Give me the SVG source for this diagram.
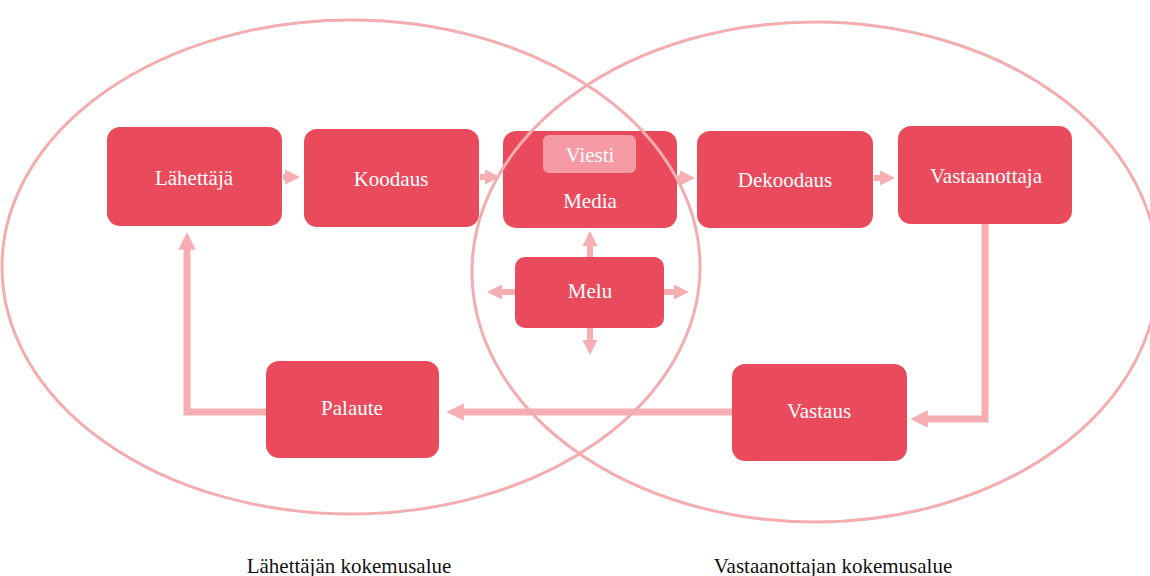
<svg xmlns="http://www.w3.org/2000/svg" width="1150" height="576" viewBox="0 0 1150 576">
<defs>
<style>
.box{fill:#e94b5c}
.lbl{font-family:"Liberation Serif","Times New Roman",serif;font-size:21px;fill:#ffffff;text-anchor:middle}
.cap{font-family:"Liberation Serif","Times New Roman",serif;font-size:21px;fill:#111111;text-anchor:middle}
.conn{fill:none;stroke:#f6aeb3;stroke-width:6}
.long{stroke-width:7}
.ell{fill:none;stroke:#f3adb0;stroke-width:3}
</style>
<marker id="ah" markerWidth="2.5" markerHeight="2.5" refX="1" refY="1.5" orient="auto" markerUnits="strokeWidth" viewBox="0 0 3 3">
<path d="M0,0 L3,1.5 L0,3 Z" fill="#f6aeb3"/>
</marker>
</defs>
<rect width="1150" height="576" fill="#ffffff"/>
<g id="connectors">
<line class="conn" x1="283" y1="177" x2="290" y2="177" marker-end="url(#ah)"/>
<line class="conn" x1="480" y1="177" x2="490" y2="177" marker-end="url(#ah)"/>
<line class="conn" x1="678" y1="178" x2="685" y2="178" marker-end="url(#ah)"/>
<line class="conn" x1="874" y1="178" x2="885" y2="178" marker-end="url(#ah)"/>
<line class="conn" x1="590" y1="257" x2="590" y2="241" marker-end="url(#ah)"/>
<line class="conn" x1="590" y1="328" x2="590" y2="345" marker-end="url(#ah)"/>
<line class="conn" x1="515" y1="292" x2="497" y2="292" marker-end="url(#ah)"/>
<line class="conn" x1="664" y1="292" x2="679" y2="292" marker-end="url(#ah)"/>
<polyline class="conn long" points="985,224 985,419 922,419" marker-end="url(#ah)"/>
<line class="conn long" x1="732" y1="412" x2="458" y2="412" marker-end="url(#ah)"/>
<polyline class="conn long" points="266,412 187,412 187,244" marker-end="url(#ah)"/>
</g>
<g id="lahettaja"><rect class="box" x="107" y="127" width="175" height="99" rx="13"/><text class="lbl" x="194" y="185">Lähettäjä</text></g>
<g id="koodaus"><rect class="box" x="304" y="129" width="175" height="98" rx="13"/><text class="lbl" x="391" y="186">Koodaus</text></g>
<g id="media"><rect class="box" x="503" y="131" width="174" height="97" rx="13"/>
<rect x="543" y="135" width="93" height="38" rx="6" fill="#f7a8b0" opacity="0.85"/>
<text class="lbl" x="590" y="162">Viesti</text><text class="lbl" x="590" y="208">Media</text></g>
<g id="melu"><rect class="box" x="515" y="257" width="149" height="71" rx="10"/><text class="lbl" x="590" y="298">Melu</text></g>
<g id="dekoodaus"><rect class="box" x="697" y="131" width="176" height="97" rx="13"/><text class="lbl" x="785" y="187">Dekoodaus</text></g>
<g id="vastaanottaja"><rect class="box" x="898" y="126" width="174" height="98" rx="13"/><text class="lbl" x="986" y="183">Vastaanottaja</text></g>
<g id="palaute"><rect class="box" x="266" y="361" width="173" height="97" rx="13"/><text class="lbl" x="352" y="415">Palaute</text></g>
<g id="vastaus"><rect class="box" x="732" y="364" width="175" height="97" rx="13"/><text class="lbl" x="819" y="418">Vastaus</text></g>
<g id="areas">
<ellipse class="ell" cx="351" cy="267" rx="349" ry="247"/>
<ellipse class="ell" cx="815" cy="272" rx="343" ry="250"/>
</g>
<text class="cap" x="349" y="573">Lähettäjän kokemusalue</text>
<text class="cap" x="833" y="573">Vastaanottajan kokemusalue</text>
</svg>
